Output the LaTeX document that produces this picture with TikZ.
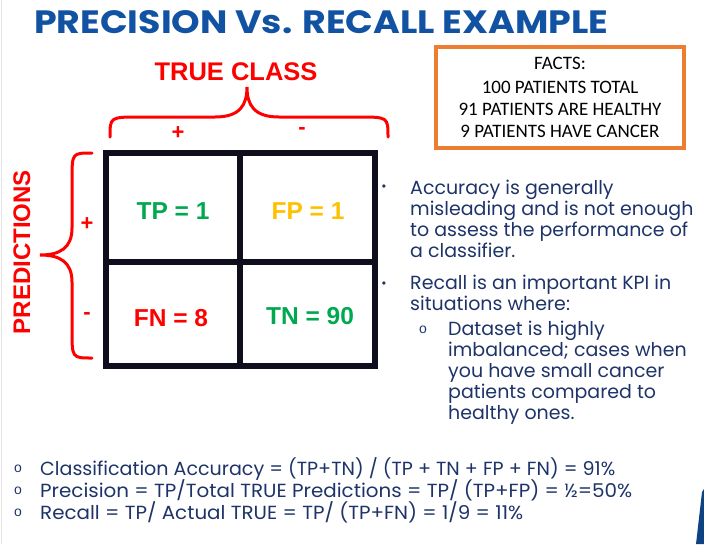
\documentclass[tikz,border=0pt]{standalone}
\usepackage{fontspec}
\usepackage{graphicx}
\setmainfont{Liberation Sans}
\newfontfamily\slidefont{Poppins}
\newfontfamily\factsfont{Carlito}
\usetikzlibrary{positioning}
\definecolor{titleblue}{RGB}{18,82,163}
\definecolor{navy}{RGB}{30,52,105}
\definecolor{factorange}{RGB}{237,125,49}
\definecolor{okgreen}{RGB}{0,168,80}
\definecolor{fpgold}{RGB}{255,192,0}
\definecolor{brred}{RGB}{255,0,0}
\definecolor{gridink}{RGB}{14,14,28}
\newcommand{\fitline}[2]{\resizebox{#1}{\height}{#2}}
\tikzset{
  brace/.style={draw=brred, line width=3pt, line cap=round},
  cell/.style={font=\bfseries\fontsize{24.5}{24.5}\selectfont},
  sign/.style={text=brred, font=\bfseries\fontsize{22}{22}\selectfont, inner sep=0pt},
  bul/.style={text=navy, font=\slidefont\fontsize{19}{21}\selectfont, align=left, anchor=north west, inner sep=0pt},
  dot/.style={text=navy, font=\fontsize{12}{12}\selectfont, inner sep=0pt},
  formula/.style={text=navy, font=\slidefont\fontsize{19}{19}\selectfont, anchor=base west, inner sep=0pt}
}
\begin{document}
\begin{tikzpicture}[x=1pt,y=-1pt]
\useasboundingbox (0,0) rectangle (704,544);
\draw[gray!20, line width=1pt] (1.5,0) -- (1.5,544);
\fill[titleblue!80!black] (702,492) -- (704,489) -- (704,544) -- (696,544) -- cycle;
\node[anchor=base west, inner sep=0pt, text=titleblue] (title) at (34,33)
  {\resizebox{574pt}{23pt}{\slidefont\bfseries PRECISION Vs. RECALL EXAMPLE}};
\node[draw=factorange, line width=4.5pt, minimum width=248pt, minimum height=101pt,
  align=center, font=\factsfont\fontsize{19}{22}\selectfont] (facts) at (560,97.5)
  {FACTS:\\[2pt] 100 PATIENTS TOTAL\\ 91 PATIENTS ARE HEALTHY\\ 9 PATIENTS HAVE CANCER};
\node[anchor=base, inner sep=0pt, text=brred, font=\bfseries\fontsize{25.5}{25.5}\selectfont] (trueclass) at (236,80) {TRUE CLASS};
\node[anchor=base, rotate=90, inner sep=0pt, text=brred, font=\bfseries\fontsize{24}{24}\selectfont] (predictions) at (30,252) {PREDICTIONS};
\draw[brace] (110,137) .. controls (110,117) .. (140,117) -- (215,117)
  .. controls (240,117) and (247,105) .. (247,87)
  .. controls (247,105) and (254,117) .. (279,117) -- (358,117)
  .. controls (388,117) .. (388,137);
\draw[brace] (92,153) .. controls (72,153) .. (72,180) -- (72,228)
  .. controls (72,248) and (60,255) .. (40,255)
  .. controls (60,255) and (72,262) .. (72,282) -- (72,330)
  .. controls (72,358) .. (92,358);
\node[sign] (tplus) at (178,133) {+};
\node[sign] (tminus) at (302,131) {-};
\node[sign] (pplus) at (87,224) {+};
\node[sign] (pminus) at (87,316) {-};
\draw[gridink, line width=6pt] (106,153) rectangle (375,366);
\draw[gridink, line width=6pt] (240,153) -- (240,366) (106,262) -- (375,262);
\node[cell, text=okgreen] (tp) at (173,211) {TP = 1};
\node[cell, text=fpgold] (fp) at (308,211) {FP = 1};
\node[cell, text=brred] (fn) at (171,318) {FN = 8};
\node[cell, text=okgreen] (tn) at (310,316) {TN = 90};
\node[dot] (d1) at (384,188) {•};
\node[dot] (d2) at (384,285) {•};
\node[dot, font=\fontsize{14}{14}\selectfont] (d3) at (423,330) {o};
\node[bul] (accuracy) at (410,180) {Accuracy is generally\\ misleading and is not enough\\ to assess the performance of\\ a classifier.};
\node[bul] (recall) at (410,275) {Recall is an important KPI in\\ situations where:};
\node[bul] (dataset) at (448,321) {Dataset is highly\\ imbalanced; cases when\\ you have small cancer\\ patients compared to\\ healthy ones.};
\node[dot, font=\fontsize{14}{14}\selectfont] (o1) at (18,469) {o};
\node[dot, font=\fontsize{14}{14}\selectfont] (o2) at (18,491) {o};
\node[dot, font=\fontsize{14}{14}\selectfont] (o3) at (18,513) {o};
\node[formula] (f1) at (40,475.5) {\fitline{575pt}{Classification Accuracy = (TP+TN) / (TP + TN + FP + FN) = 91\%}};
\node[formula] (f2) at (40,497.5) {\fitline{592pt}{Precision = TP/Total TRUE Predictions = TP/ (TP+FP) = ½=50\%}};
\node[formula] (f3) at (40,519.5) {\fitline{483pt}{Recall = TP/ Actual TRUE = TP/ (TP+FN) = 1/9 = 11\%}};
\end{tikzpicture}
\end{document}
